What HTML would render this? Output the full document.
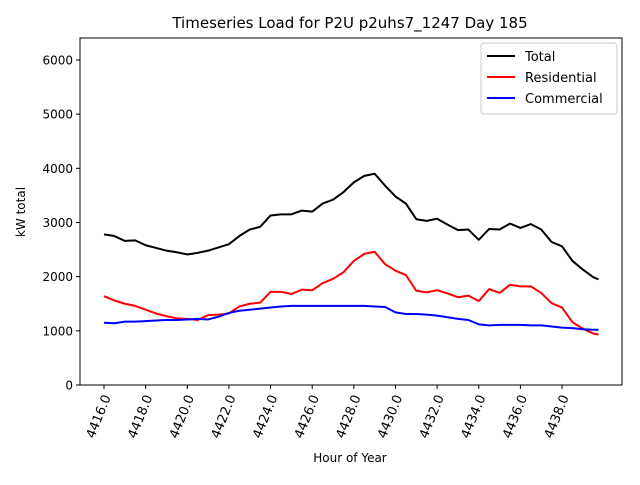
<!DOCTYPE html>
<html><head><meta charset="utf-8"><style>
body{margin:0;background:#fff;}
svg text{font-family:"DejaVu Sans","Liberation Sans",sans-serif;}
</style></head><body>
<svg id="chart" width="640" height="480">
<text x="350" y="28" text-anchor="middle" font-size="15">Timeseries Load for P2U p2uhs7_1247  Day 185</text>
<g id="plot"></g>
<text x="350" y="462" text-anchor="middle" font-size="12">Hour of Year</text>
<text x="25" y="212" text-anchor="middle" font-size="12" transform="rotate(-90 25 212)">kW total</text>
</svg>
<script>
const hours=[4416,4416.5,4417,4417.5,4418,4418.5,4419,4419.5,4420,4420.5,4421,4421.5,4422,4422.5,4423,4423.5,4424,4424.5,4425,4425.5,4426,4426.5,4427,4427.5,4428,4428.5,4429,4429.5,4430,4430.5,4431,4431.5,4432,4432.5,4433,4433.5,4434,4434.5,4435,4435.5,4436,4436.5,4437,4437.5,4438,4438.5,4439,4439.5,4439.75];
const total=[2780,2750,2660,2670,2580,2530,2480,2450,2410,2440,2480,2540,2600,2750,2870,2920,3130,3150,3150,3220,3200,3350,3420,3560,3740,3860,3900,3680,3480,3350,3060,3030,3070,2960,2860,2870,2680,2880,2870,2980,2900,2970,2870,2640,2560,2290,2130,1990,1950];
const residential=[1640,1560,1500,1460,1390,1320,1270,1230,1220,1200,1290,1300,1320,1450,1500,1520,1720,1720,1680,1760,1750,1880,1960,2080,2290,2420,2460,2230,2110,2030,1740,1710,1750,1690,1620,1650,1550,1770,1700,1850,1820,1820,1700,1510,1430,1160,1040,950,930];
const commercial=[1150,1140,1170,1170,1180,1190,1200,1200,1210,1220,1210,1260,1330,1370,1390,1410,1430,1450,1460,1460,1460,1460,1460,1460,1460,1460,1450,1440,1340,1310,1310,1300,1280,1250,1220,1200,1120,1100,1110,1110,1110,1100,1100,1080,1060,1050,1030,1020,1020];
const xTicks=[4416,4418,4420,4422,4424,4426,4428,4430,4432,4434,4436,4438];
const yTicks=[0,1000,2000,3000,4000,5000,6000];
const L=80,R=622,T=38,B=385;
const X=h=>104+(h-4416)*20.82;
const Y=v=>B-v*0.05417;
const NS='http://www.w3.org/2000/svg';
const g=document.getElementById('plot');
function mk(t,a){const e=document.createElementNS(NS,t);for(const k in a)e.setAttribute(k,a[k]);g.appendChild(e);return e;}
const frame=mk('rect',{x:L,y:T,width:R-L,height:B-T,fill:'none',stroke:'#000','stroke-width':1});


xTicks.forEach(t=>{const x=X(t);
 const l=mk('line',{x1:x,x2:x,y1:B,y2:B+4,stroke:'#000'});
 
 
 const ax=x+7, ay=B+12;
 const tx=mk('text',{x:ax,y:ay,'font-size':13,'text-anchor':'end',transform:`rotate(-68 ${ax} ${ay})`});
 tx.textContent=t.toFixed(1);
 
 
});
yTicks.forEach(t=>{const y=Y(t);
 const l=mk('line',{x1:L-4,x2:L,y1:y,y2:y,stroke:'#000'});
 
 
 const tx=mk('text',{x:L-7,y:y+4.5,'font-size':12,'text-anchor':'end'});
 tx.textContent=t;
 
 
});
[[total,'#000','total-line'],[residential,'#f00','residential-line'],[commercial,'#00f','commercial-line']].forEach(([d,c,n])=>{
 const p=mk('polyline',{points:d.map((v,i)=>X(hours[i])+','+Y(v)).join(' '),fill:'none',stroke:c,'stroke-width':2,'stroke-linejoin':'round'});
 
 
});
const lg=mk('rect',{x:481,y:43,width:136,height:71,fill:'#fff',stroke:'#ccc',rx:3});


[['Total','#000'],['Residential','#f00'],['Commercial','#00f']].forEach(([n,c],i)=>{
 const y=56+i*21;
 const l=mk('line',{x1:487,x2:515,y1:y,y2:y,stroke:c,'stroke-width':2});
 
 
 const t=mk('text',{x:525,y:y+5,'font-size':13});
 t.textContent=n;
 
 
});
</script>
</body></html>
